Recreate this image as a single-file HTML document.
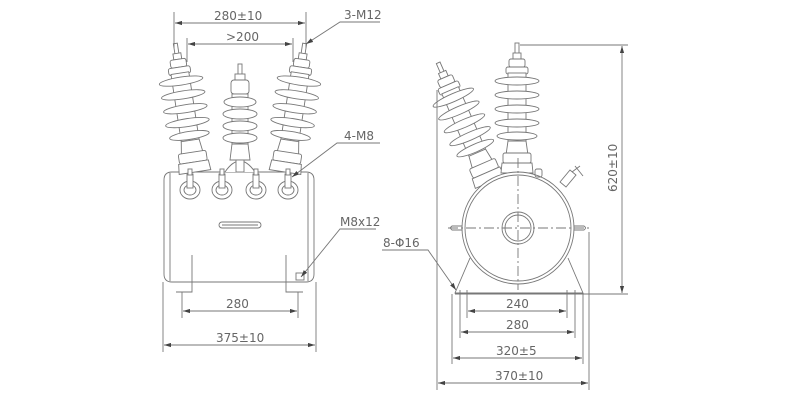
<!DOCTYPE html>
<html><head><meta charset="utf-8"><style>
html,body{margin:0;padding:0;background:#fff;}
svg{display:block;}
text{font-family:"DejaVu Sans","Liberation Sans",sans-serif;font-size:12px;fill:#666;}
</style></head><body>
<svg width="800" height="400" viewBox="0 0 800 400" xmlns="http://www.w3.org/2000/svg">
<defs>
<marker id="a" viewBox="0 0 10 6" refX="10" refY="3" markerWidth="8" markerHeight="5" orient="auto-start-reverse"><path d="M0,0L10,3L0,6z" fill="#444"/></marker>
<g id="bush" fill="#fff" stroke="#777" stroke-width="0.9">
<rect x="-2" y="-130" width="4" height="14"/>
<rect x="-4" y="-120" width="8" height="6"/>
<rect x="-8" y="-114" width="16" height="8" rx="2"/>
<rect x="-11" y="-106" width="22" height="7" rx="2"/>
<rect x="-9" y="-100" width="18" height="70"/>
<ellipse cx="0" cy="-92" rx="22" ry="4"/>
<ellipse cx="0" cy="-78" rx="22" ry="4"/>
<ellipse cx="0" cy="-64" rx="22" ry="4"/>
<ellipse cx="0" cy="-50" rx="22" ry="4"/>
<ellipse cx="0" cy="-37" rx="20" ry="4"/>
<path d="M-9,-32L-11,-18H11L9,-32z"/>
<rect x="-14" y="-20" width="28" height="10" rx="2"/>
<path d="M-15,-10H15L16,0H-16z"/>
</g>
<g id="term" fill="#fff" stroke="#777" stroke-width="0.9">
<ellipse cx="0" cy="14" rx="10" ry="9"/>
<ellipse cx="0" cy="14" rx="6" ry="5"/>
<rect x="-3" y="-2" width="6" height="14"/>
<rect x="-2" y="-7" width="4" height="6"/>
</g>
</defs>
<g stroke="#777" stroke-width="0.9" fill="none">
<path d="M172,172H306Q314,172 314,180V274Q314,282 306,282H172Q164,282 164,274V180Q164,172 172,172z" fill="#fff"/>
<line x1="170" y1="173" x2="170" y2="281"/><line x1="308" y1="173" x2="308" y2="281"/>
<use href="#bush" transform="translate(195,172) rotate(-8.7)"/>
<use href="#bush" transform="translate(285,172) rotate(8.7)"/>
<g fill="#fff">
<rect x="238" y="64" width="4" height="12"/><rect x="235" y="74" width="10" height="6"/>
<rect x="231" y="80" width="18" height="14" rx="3"/>
<rect x="232" y="94" width="16" height="50"/>
<ellipse cx="240" cy="102" rx="16" ry="5"/><ellipse cx="240" cy="114" rx="17" ry="5"/>
<ellipse cx="240" cy="126" rx="17" ry="5"/><ellipse cx="240" cy="138" rx="17" ry="5"/>
<path d="M232,144L230,160H250L248,144z"/>
<path d="M225,172Q240,150 255,172" />
<rect x="236" y="160" width="8" height="12"/>
</g>
<use href="#term" transform="translate(190,176)"/>
<use href="#term" transform="translate(222,176)"/>
<use href="#term" transform="translate(256,176)"/>
<use href="#term" transform="translate(288,176)"/>
<rect x="219" y="222" width="42" height="6" rx="3"/>
<line x1="222" y1="225" x2="258" y2="225"/>
<path d="M192,255V292H176"/><path d="M286,255V292H303"/>
<rect x="296" y="273" width="8" height="7"/>
<line x1="174" y1="12" x2="174" y2="48"/><line x1="306" y1="12" x2="306" y2="48"/>
<line x1="175" y1="23" x2="305" y2="23" marker-start="url(#a)" marker-end="url(#a)"/>
<line x1="187" y1="38" x2="187" y2="62"/><line x1="293" y1="38" x2="293" y2="62"/>
<line x1="188" y1="44" x2="292" y2="44" marker-start="url(#a)" marker-end="url(#a)"/>
<line x1="182" y1="292" x2="182" y2="318"/><line x1="298" y1="292" x2="298" y2="318"/>
<line x1="183" y1="311" x2="297" y2="311" marker-start="url(#a)" marker-end="url(#a)"/>
<line x1="163" y1="282" x2="163" y2="352"/><line x1="316" y1="282" x2="316" y2="352"/>
<line x1="164" y1="345" x2="315" y2="345" marker-start="url(#a)" marker-end="url(#a)"/>
<path d="M380,22H340L306,44" marker-end="url(#a)"/>
<path d="M380,143H337L292,177" marker-end="url(#a)"/>
<path d="M376,229H340L301,277" marker-end="url(#a)"/>
<use href="#bush" transform="translate(490,182) rotate(-23.5)"/>
<use href="#bush" transform="translate(517,173)"/>
<path d="M470,258L455,293H583L568,258"/>
<line x1="455" y1="294" x2="583" y2="294"/>
<circle cx="518" cy="228" r="56" fill="#fff"/>
<circle cx="518" cy="228" r="53"/>
<circle cx="518" cy="228" r="16"/><circle cx="518" cy="228" r="13"/>
<path d="M462,226H452Q449,228 452,230H462M574,226H584Q587,228 584,230H574"/>
<line x1="448" y1="228" x2="590" y2="228" stroke-dasharray="10,3,2,3"/>
<line x1="518" y1="158" x2="518" y2="290" stroke-dasharray="10,3,2,3"/>
<rect x="535" y="169" width="7" height="8" rx="2"/>
<path d="M560,182L570,170L576,175L566,187z"/><line x1="572" y1="172" x2="580" y2="166"/><line x1="575" y1="166" x2="583" y2="176"/>
<line x1="520" y1="45" x2="628" y2="45"/>
<line x1="583" y1="294" x2="628" y2="294"/>
<line x1="622" y1="46" x2="622" y2="293" marker-start="url(#a)" marker-end="url(#a)"/>
<line x1="467" y1="290" x2="467" y2="318"/><line x1="567" y1="290" x2="567" y2="318"/>
<line x1="468" y1="311" x2="566" y2="311" marker-start="url(#a)" marker-end="url(#a)"/>
<line x1="460" y1="290" x2="460" y2="338"/><line x1="575" y1="290" x2="575" y2="338"/>
<line x1="461" y1="332" x2="574" y2="332" marker-start="url(#a)" marker-end="url(#a)"/>
<line x1="452" y1="294" x2="452" y2="364"/><line x1="583" y1="294" x2="583" y2="364"/>
<line x1="453" y1="358" x2="582" y2="358" marker-start="url(#a)" marker-end="url(#a)"/>
<line x1="437" y1="90" x2="437" y2="390"/><line x1="589" y1="232" x2="589" y2="390"/>
<line x1="438" y1="383" x2="588" y2="383" marker-start="url(#a)" marker-end="url(#a)"/>
<path d="M382,250H428L456,290" marker-end="url(#a)"/>
</g>
<g>
<text x="214" y="20">280±10</text>
<text x="226" y="41">&gt;200</text>
<text x="344" y="19">3-M12</text>
<text x="344" y="140">4-M8</text>
<text x="340" y="226">M8x12</text>
<text x="226" y="308">280</text>
<text x="216" y="342">375±10</text>
<text x="383" y="247">8-Φ16</text>
<text x="506" y="308">240</text>
<text x="506" y="329">280</text>
<text x="496" y="355">320±5</text>
<text x="495" y="380">370±10</text>
<text transform="translate(617,192) rotate(-90)">620±10</text>
</g>
</svg>
</body></html>
